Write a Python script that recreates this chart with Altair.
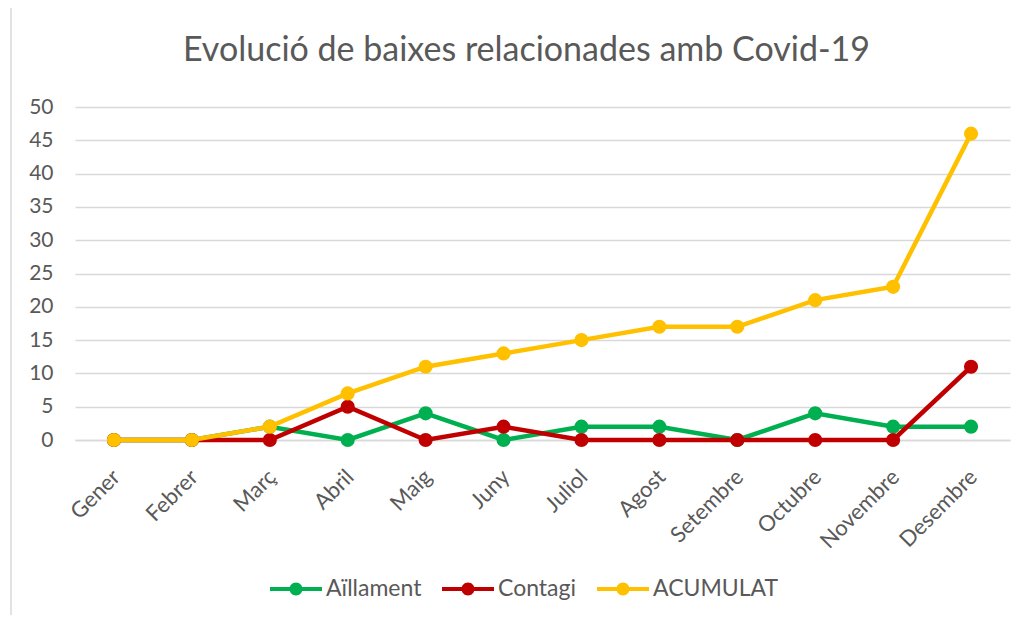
import altair as alt
import pandas as pd

months = ["Gener", "Febrer", "Març", "Abril", "Maig", "Juny", "Juliol",
          "Agost", "Setembre", "Octubre", "Novembre", "Desembre"]
series_names = ["Aïllament", "Contagi", "ACUMULAT"]
aillament = [0, 0, 2, 0, 4, 0, 2, 2, 0, 4, 2, 2]
contagi = [0, 0, 0, 5, 0, 2, 0, 0, 0, 0, 0, 11]
acumulat = [0, 0, 2, 7, 11, 13, 15, 17, 17, 21, 23, 46]
colors = ["#00B050", "#C00000", "#FFC000"]
y_ticks = list(range(0, 51, 5))

rows = []
for name, vals in zip(series_names, [aillament, contagi, acumulat]):
    for m, v in zip(months, vals):
        rows.append({"mes": m, "serie": name, "valor": v})
df = pd.DataFrame(rows)

FONT = "Lato"
TXT = "#595959"

x_enc = alt.X("mes:N", sort=months, title=None,
              scale=alt.Scale(type="point", padding=0.5),
              axis=alt.Axis(labelAngle=-45, labelFontSize=22, labelColor=TXT,
                            labelFont=FONT, ticks=False, domain=True,
                            domainColor="#D9D9D9", domainWidth=1.5,
                            labelPadding=26, labelOffset=-5, grid=False))
y_enc = alt.Y("valor:Q", title=None,
              scale=alt.Scale(domain=[0, 50], nice=False),
              axis=alt.Axis(values=y_ticks, labelFontSize=21, labelColor=TXT,
                            labelFont=FONT, ticks=False, domain=False,
                            labelPadding=22, gridColor="#D9D9D9", gridWidth=1.5))

legend_symbol = ("M-1,-0.08 H-0.2 V0.08 H-1 Z "
                 "M0.2,-0.08 H1 V0.08 H0.2 Z "
                 "M0.25,0 A0.25,0.25 0 1,1 -0.25,0 A0.25,0.25 0 1,1 0.25,0 Z")

border = alt.Chart(pd.DataFrame({"a": [0]})).mark_rect(
    fill="transparent", stroke="#D9D9D9", strokeWidth=1.5
).encode(x=alt.value(-64), x2=alt.value(1200), y=alt.value(-100), y2=alt.value(800))

layers = [border]
base = alt.Chart(df)
for name, col in zip(series_names, colors):
    sub = base.transform_filter(alt.datum.serie == name)
    line = sub.mark_line(strokeWidth=4.5, color=col).encode(x=x_enc, y=y_enc)
    pts = sub.mark_circle(size=200, opacity=1).encode(
        x=x_enc, y=y_enc,
        fill=alt.Fill("serie:N", scale=alt.Scale(domain=series_names, range=colors),
                      title=None,
                      legend=alt.Legend(orient="none", direction="horizontal",
                                        legendX=195, legendY=456,
                                        symbolType=legend_symbol, symbolSize=2704,
                                        symbolStrokeWidth=0, labelFontSize=23,
                                        labelFont=FONT, labelColor=TXT,
                                        labelOffset=4, columnPadding=20)))
    layers += [line, pts]

chart = alt.layer(*layers).properties(
    width=935, height=333,
    title=alt.TitleParams("Evolució de baixes relacionades amb Covid-19",
                          fontSize=34, font=FONT, color=TXT, fontWeight="normal",
                          anchor="middle", frame="group", offset=-62, dx=-16),
    autosize=alt.AutoSizeParams(type="none"),
    padding={"left": 67, "top": 99, "right": 9, "bottom": 175},
).configure_view(stroke=None)

chart.save("out.html", embed_options={"renderer": "svg", "actions": False})
